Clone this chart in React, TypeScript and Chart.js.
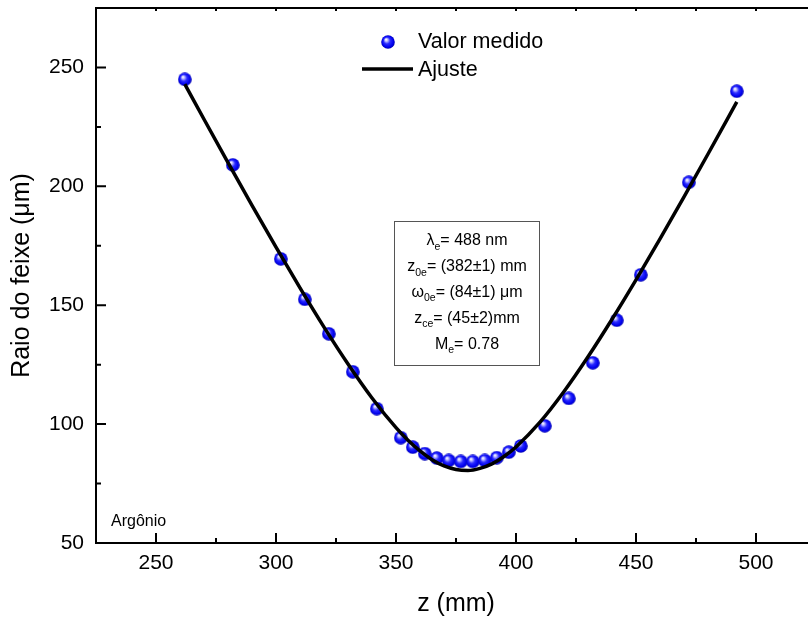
import React, { useEffect, useRef } from "react";
import { Chart, registerables } from "chart.js";

Chart.register(...registerables);

// ---- Data ----
const Z_MEASURED = [262, 282, 302, 312, 322, 332, 342, 352, 357, 362, 367, 372, 377, 382, 387, 392, 397, 402, 412, 422, 432, 442, 452, 472, 492];
const R_MEASURED = [245, 209, 169.5, 152.5, 138, 122, 106.5, 94.3, 90.3, 87.6, 85.7, 84.7, 84.3, 84.3, 84.7, 85.9, 88.2, 90.8, 99.3, 110.8, 125.8, 143.7, 162.8, 201.7, 240];

const Z_FIT = [262, 270, 280, 290, 300, 310, 320, 330, 340, 350, 355, 360, 365, 370, 375, 380, 385, 390, 395, 400, 410, 420, 430, 440, 450, 460, 470, 480, 492];
const R_FIT = [243, 228.2, 210, 192, 174.4, 157.3, 140.8, 125.3, 111, 98.5, 93.2, 88.7, 85, 82.4, 80.9, 80.5, 81.4, 83.3, 86.4, 90.4, 100.8, 113.7, 128.3, 144.1, 160.7, 177.9, 195.6, 213.6, 235.5];

const X_MAJOR_TICKS = [250, 300, 350, 400, 450, 500];
const X_MINOR_TICKS = [275, 325, 375, 425, 475];
const Y_MAJOR_TICKS = [50, 100, 150, 200, 250];
const Y_MINOR_TICKS = [75, 125, 175, 225];

const X_RANGE = [225, 525];
const Y_RANGE = [50, 275];

const LEGEND_LABELS = ["Valor medido", "Ajuste"];
const X_TITLE = "z (mm)";
const Y_TITLE = "Raio do feixe (\u03bcm)";
const CORNER_NOTE = "Argônio";
// each line: [text, isSubscript][]
const INFO_LINES: [string, boolean][][] = [
  [["\u03bb", false], ["e", true], ["= 488 nm", false]],
  [["z", false], ["0e", true], ["= (382\u00b11) mm", false]],
  [["\u03c9", false], ["0e", true], ["= (84\u00b11) \u03bcm", false]],
  [["z", false], ["ce", true], ["= (45\u00b12)mm", false]],
  [["M", false], ["e", true], ["= 0.78", false]],
];

const FONT = "'Liberation Sans', Arial, Helvetica, sans-serif";

function makeSphere(): HTMLCanvasElement {
  const s = 14;
  const c = document.createElement("canvas");
  c.width = s;
  c.height = s;
  const g = c.getContext("2d")!;
  const grad = g.createRadialGradient(5, 4.5, 0.3, 7, 7, 7);
  grad.addColorStop(0, "#ffffff");
  grad.addColorStop(0.18, "#b8b8ff");
  grad.addColorStop(0.45, "#2a2aff");
  grad.addColorStop(0.8, "#0000ee");
  grad.addColorStop(1, "#0000a8");
  g.fillStyle = grad;
  g.beginPath();
  g.arc(7, 7, 6.8, 0, Math.PI * 2);
  g.fill();
  return c;
}

export default function App() {
  const ref = useRef<HTMLCanvasElement>(null);

  useEffect(() => {
    const canvas = ref.current!;
    const sphere = makeSphere();

    const decorPlugin = {
      id: "decor",
      afterDraw(chart: any) {
        const ctx = chart.ctx as CanvasRenderingContext2D;
        const { left, right, top, bottom } = chart.chartArea;
        const xs = chart.scales.x;
        const ys = chart.scales.y;
        ctx.save();
        ctx.strokeStyle = "#000";
        ctx.lineWidth = 2;
        // frame
        ctx.strokeRect(left, top, right - left, bottom - top);
        // ticks (inward)
        ctx.beginPath();
        X_MAJOR_TICKS.forEach((v) => {
          const px = xs.getPixelForValue(v);
          ctx.moveTo(px, bottom);
          ctx.lineTo(px, bottom - 10);
          ctx.moveTo(px, top);
          ctx.lineTo(px, top + 3);
        });
        X_MINOR_TICKS.forEach((v) => {
          const px = xs.getPixelForValue(v);
          ctx.moveTo(px, bottom);
          ctx.lineTo(px, bottom - 5);
          ctx.moveTo(px, top);
          ctx.lineTo(px, top + 3);
        });
        Y_MAJOR_TICKS.forEach((v) => {
          const py = ys.getPixelForValue(v);
          ctx.moveTo(left, py);
          ctx.lineTo(left + 10, py);
        });
        Y_MINOR_TICKS.forEach((v) => {
          const py = ys.getPixelForValue(v);
          ctx.moveTo(left, py);
          ctx.lineTo(left + 5, py);
        });
        ctx.stroke();

        // legend
        ctx.fillStyle = "#000";
        ctx.textBaseline = "middle";
        ctx.textAlign = "left";
        ctx.font = `21.5px ${FONT}`;
        ctx.drawImage(sphere, 388 - 7, 42 - 7);
        ctx.fillText(LEGEND_LABELS[0], 418, 42.5);
        ctx.beginPath();
        ctx.lineWidth = 3.5;
        ctx.moveTo(362, 69);
        ctx.lineTo(413, 69);
        ctx.stroke();
        ctx.fillText(LEGEND_LABELS[1], 418, 70);

        // info box
        ctx.lineWidth = 1;
        ctx.strokeStyle = "#555";
        ctx.strokeRect(394.5, 221.5, 145, 144);
        const cx = 467;
        const mainF = `16px ${FONT}`;
        const subF = `10.5px ${FONT}`;
        INFO_LINES.forEach((parts, i) => {
          const cy = 241 + i * 25.8;
          let w = 0;
          parts.forEach(([t, sub]) => {
            ctx.font = sub ? subF : mainF;
            w += ctx.measureText(t).width;
          });
          let x = cx - w / 2;
          parts.forEach(([t, sub]) => {
            ctx.font = sub ? subF : mainF;
            ctx.fillText(t, x, sub ? cy + 6 : cy);
            x += ctx.measureText(t).width;
          });
        });

        // corner note
        ctx.font = `16px ${FONT}`;
        ctx.fillText(CORNER_NOTE, 111, 522);
        ctx.restore();
      },
    };

    const chart = new Chart(canvas, {
      type: "scatter",
      data: {
        datasets: [
          {
            label: LEGEND_LABELS[1],
            data: Z_FIT.map((x, i) => ({ x, y: R_FIT[i] })),
            showLine: true,
            borderColor: "#000",
            borderWidth: 3.5,
            pointRadius: 0,
            cubicInterpolationMode: "monotone",
            order: 0,
          } as any,
          {
            label: LEGEND_LABELS[0],
            data: Z_MEASURED.map((x, i) => ({ x, y: R_MEASURED[i] })),
            showLine: false,
            pointStyle: sphere,
            pointRadius: 7,
            order: 1,
          } as any,
        ],
      },
      options: {
        animation: false,
        responsive: false,
        layout: { padding: { top: 8, right: 14, left: 0, bottom: 0 } },
        plugins: { legend: { display: false }, tooltip: { enabled: false } },
        scales: {
          x: {
            type: "linear",
            position: "bottom",
            min: X_RANGE[0],
            max: X_RANGE[1],
            grid: { display: false, drawTicks: false },
            border: { display: false },
            ticks: { color: "#000", font: { family: FONT, size: 21 }, padding: 8, maxRotation: 0, autoSkip: false },
            title: { display: true, text: X_TITLE, color: "#000", font: { family: FONT, size: 25 }, padding: { top: 0, bottom: 2 } },
            afterBuildTicks: (s: any) => {
              s.ticks = X_MAJOR_TICKS.map((v) => ({ value: v }));
            },
            afterFit: (s: any) => {
              s.height = 78;
              s.paddingLeft = 0;
              s.paddingRight = 0;
            },
          },
          y: {
            type: "linear",
            position: "left",
            min: Y_RANGE[0],
            max: Y_RANGE[1],
            grid: { display: false, drawTicks: false },
            border: { display: false },
            ticks: { color: "#000", font: { family: FONT, size: 21 }, padding: 12, autoSkip: false },
            title: { display: true, text: Y_TITLE, color: "#000", font: { family: FONT, size: 25 }, padding: { top: 7, bottom: 0 } },
            afterBuildTicks: (s: any) => {
              s.ticks = Y_MAJOR_TICKS.map((v) => ({ value: v }));
            },
            afterFit: (s: any) => {
              s.width = 96;
              s.paddingTop = 0;
              s.paddingBottom = 0;
            },
          },
        },
      } as any,
      plugins: [decorPlugin],
    });
    return () => chart.destroy();
  }, []);

  return (
    <div style={{ position: "absolute", left: 0, top: 0, width: 808, height: 621, overflow: "hidden", background: "#fff" }}>
      <canvas ref={ref} width={830} height={621} style={{ width: 830, height: 621, display: "block" }} />
    </div>
  );
}
